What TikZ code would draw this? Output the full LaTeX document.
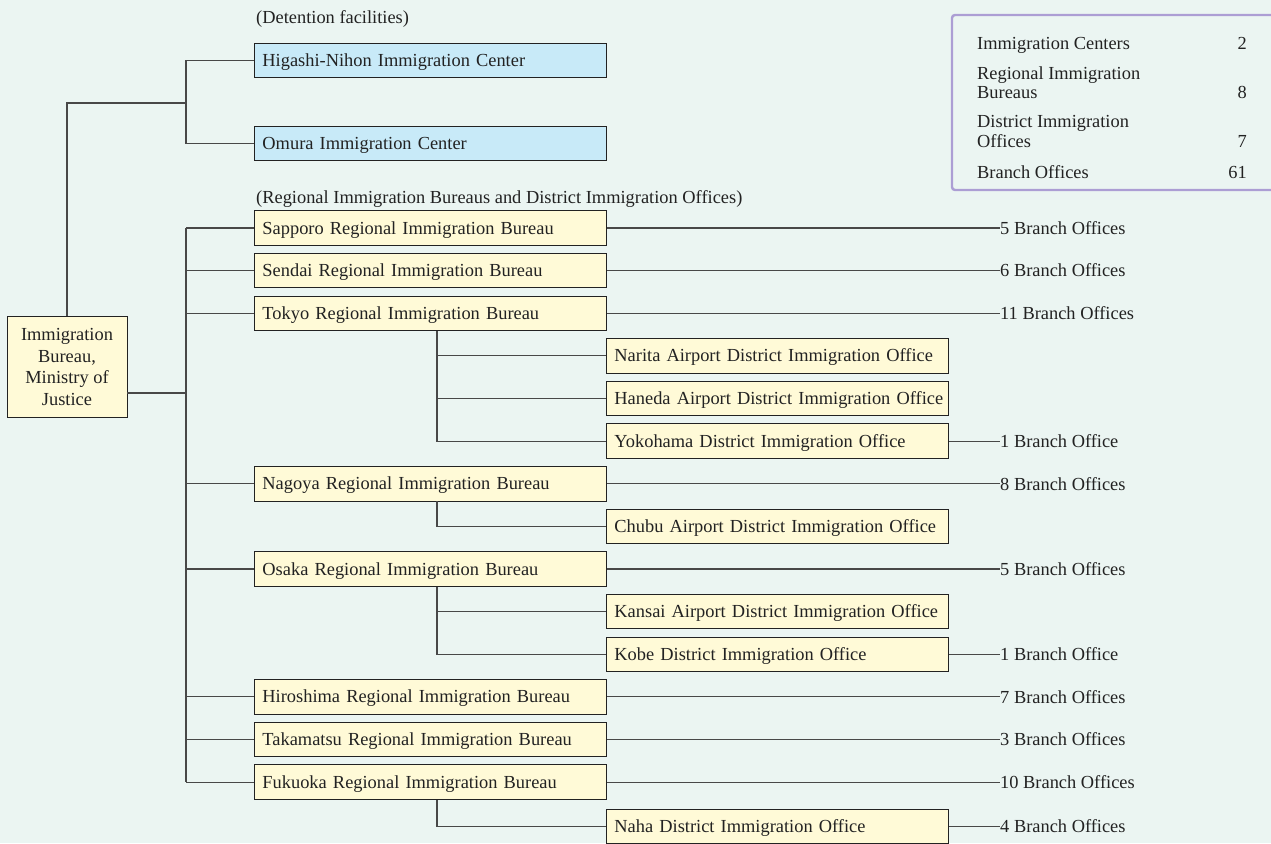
\documentclass[tikz,border=0pt]{standalone}
\usepackage{fontspec}
\setmainfont{Liberation Serif}
\usepackage{xcolor}
\usetikzlibrary{positioning}
\definecolor{bgmint}{RGB}{235,245,242}
\definecolor{centerfill}{RGB}{200,234,248}
\definecolor{bureaufill}{RGB}{255,250,215}
\definecolor{legendedge}{RGB}{172,158,212}
\definecolor{linkgray}{RGB}{72,72,72}
\definecolor{inkdark}{RGB}{34,34,34}

\begin{document}
\begin{tikzpicture}[x=1pt,y=-1pt,
    every node/.style={font=\fontsize{18.4}{21.5}\selectfont, text=inkdark},
    unitbox/.style={draw=inkdark, line width=0.9pt, anchor=west, inner xsep=8pt, inner ysep=0pt,
        minimum height=34.5pt, text height=16pt, text depth=4pt, align=left},
    centerbox/.style={unitbox, fill=centerfill, minimum width=352pt, text width=336pt},
    bureaubox/.style={unitbox, fill=bureaufill, minimum width=352pt, text width=336pt},
    officebox/.style={unitbox, fill=bureaufill, minimum width=342pt, text width=326pt},
    branchlabel/.style={anchor=west, inner sep=0pt},
    heading/.style={anchor=base west, inner sep=0pt},
    legendtext/.style={anchor=base west, inner sep=0pt},
    legendnum/.style={anchor=base east, inner sep=0pt},
    link/.style={draw=linkgray, line width=1.1pt}]
    \fill[bgmint] (0,0) rectangle (1271,843);
    \useasboundingbox (0,0) rectangle (1271,843);

    \node[draw=inkdark, line width=0.9pt, fill=bureaufill, minimum width=120pt, minimum height=101pt,
        align=center, inner sep=2pt] (root) at (67,367) {Immigration\\Bureau,\\Ministry of\\Justice};

    \node[heading] (dethead) at (256,24) {(Detention facilities)};
    \node[centerbox] (higashi) at (254,60.5) {Higashi-Nihon Immigration Center};
    \node[centerbox] (omura) at (254,143.5) {Omura Immigration Center};
    \node[heading] (reghead) at (256,203) {(Regional Immigration Bureaus and District Immigration Offices)};

    \coordinate (detjoin) at (186,103);
    \coordinate (rootjoin) at (186,393);
    \draw[link] (higashi.west) -| (detjoin |- omura.west) -- (omura.west);
    \draw[link] (root.north) |- (detjoin);

    \foreach \name/\y/\txt/\br in {sapporo/228/Sapporo/5 Branch Offices, sendai/270.6/Sendai/6 Branch Offices,
        tokyo/313.2/Tokyo/11 Branch Offices, nagoya/483.7/Nagoya/8 Branch Offices,
        osaka/569/Osaka/5 Branch Offices, hiroshima/696.8/Hiroshima/7 Branch Offices,
        takamatsu/739.4/Takamatsu/3 Branch Offices, fukuoka/782.1/Fukuoka/10 Branch Offices}{
        \node[bureaubox] (\name) at (254,\y) {\txt\ Regional Immigration Bureau};
        \node[branchlabel] (\name-br) at (1000,\y) {\br};
        \draw[link] (\name.east) -- (\name-br.west);
        \draw[link] (\name.west) -- (\name.west -| rootjoin);
    }
    \draw[link] (sapporo.west -| rootjoin) -- (fukuoka.west -| rootjoin);
    \draw[link] (rootjoin -| root.east) -- (rootjoin);

    \foreach \name/\y/\txt in {narita/355.9/Narita Airport, haneda/398.5/Haneda Airport, yokohama/441.1/Yokohama,
        chubu/526.3/Chubu Airport, kansai/611.6/Kansai Airport, kobe/654.2/Kobe, naha/826.5/Naha}{
        \node[officebox] (\name) at (606,\y) {\mbox{\txt\ District Immigration Office}};
    }
    \foreach \name/\br in {yokohama/1 Branch Office, kobe/1 Branch Office, naha/4 Branch Offices}{
        \node[branchlabel] (\name-br) at (1000,0 |- \name.west) {\br};
        \draw[link] (\name.east) -- (\name-br.west);
    }
    \foreach \bur/\offs in {tokyo/{narita,haneda,yokohama}, nagoya/{chubu}, osaka/{kansai,kobe}, fukuoka/{naha}}{
        \foreach \off in \offs
            \draw[link] ([xshift=183pt]\bur.south west) |- (\off.west);
    }

    \draw[legendedge, line width=2.4pt, rounded corners=3pt] (952,15) rectangle (1300,190);
    \node[legendtext] (lgcenters) at (977,49) {Immigration Centers};
    \node[legendnum] (lgcentersn) at (1247,49) {2};
    \node[legendtext] (lgregional) at (977,79) {Regional Immigration};
    \node[legendtext] (lgregional2) at (977,98.5) {Bureaus};
    \node[legendnum] (lgregionaln) at (1247,98.5) {8};
    \node[legendtext] (lgdistrict) at (977,127.5) {District Immigration};
    \node[legendtext] (lgdistrict2) at (977,147) {Offices};
    \node[legendnum] (lgdistrictn) at (1247,147) {7};
    \node[legendtext] (lgbranch) at (977,178) {Branch Offices};
    \node[legendnum] (lgbranchn) at (1247,178) {61};
\end{tikzpicture}
\end{document}
